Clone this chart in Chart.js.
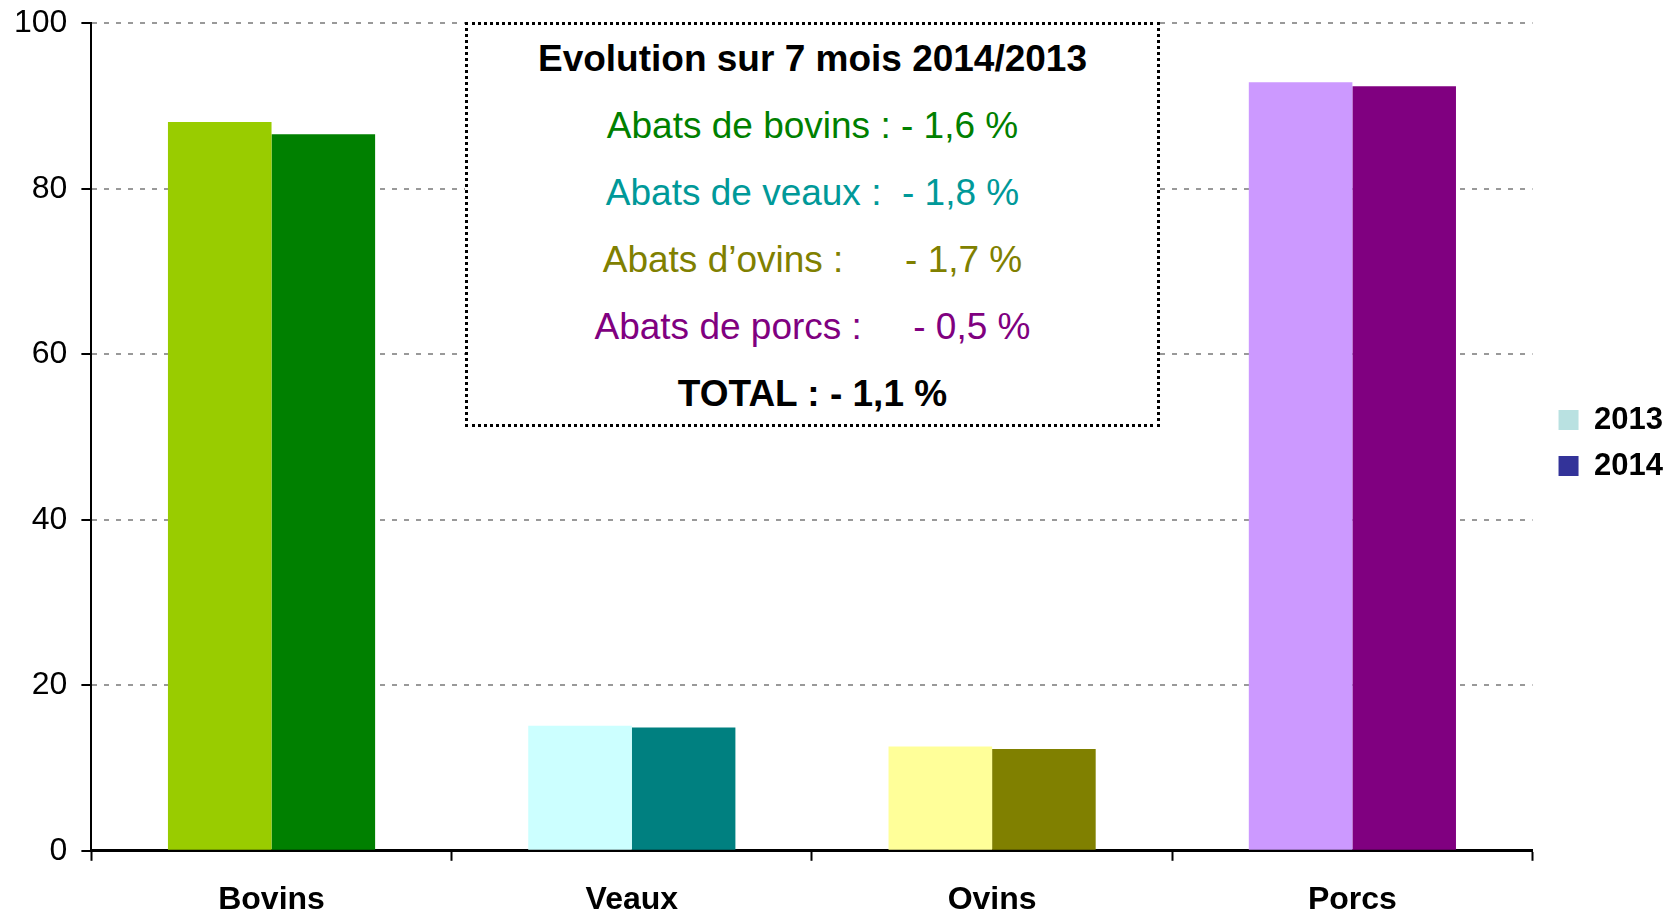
<!DOCTYPE html>
<html>
<head>
<meta charset="utf-8">
<script src="https://cdn.jsdelivr.net/npm/chart.js@4/dist/chart.umd.min.js"></script>
<style>
  body { margin: 0; background: #fff; }
  #wrap { position: relative; width: 1668px; height: 917px; overflow: hidden; }
  #note {
    position: absolute; left: 465px; top: 22px; width: 695px; height: 405px;
    box-sizing: border-box; border: 3px dotted #000; background: #fff;
    font-family: "Liberation Sans", Arial, sans-serif; font-size: 37px;
    text-align: center;
  }
  #note div { height: 67px; line-height: 67px; white-space: pre; }
</style>
</head>
<body>
<div id="wrap">
  <canvas id="chart" width="1668" height="917"></canvas>
  <div id="note">
    <div style="font-weight:bold;color:#000">Evolution sur 7 mois 2014/2013</div>
    <div style="color:#008000">Abats de bovins : - 1,6 %</div>
    <div style="color:#009999">Abats de veaux :  - 1,8 %</div>
    <div style="color:#808000">Abats d’ovins :      - 1,7 %</div>
    <div style="color:#800080">Abats de porcs :     - 0,5 %</div>
    <div style="font-weight:bold;color:#000">TOTAL : - 1,1 %</div>
  </div>
</div>
<script>
// data
const categories = ['Bovins', 'Veaux', 'Ovins', 'Porcs'];
const years = ['2013', '2014'];
const values2013 = [88.1, 15.1, 12.6, 92.9];
const values2014 = [86.6, 14.9, 12.3, 92.4];
const yTicks = [0, 20, 40, 60, 80, 100];

// each category has its own pair of colours
const colors2013 = ['#99CC00', '#CCFFFF', '#FFFF99', '#CC99FF'];
const colors2014 = ['#008000', '#008080', '#808000', '#800080'];
const legendColors = ['#B9E1E1', '#333399'];

const font = '"Liberation Sans", Arial, sans-serif';

// nudges the legend block a bit to the right / up after layout
const legendShift = {
  id: 'legendShift',
  afterLayout(chart) {
    const lg = chart.legend;
    lg.left += 11; lg.right += 11;
    lg.top -= 27; lg.bottom -= 27;
  }
};

new Chart(document.getElementById('chart').getContext('2d'), {
  type: 'bar',
  data: {
    labels: categories,
    datasets: [
      { label: years[0], data: values2013, backgroundColor: colors2013, borderWidth: 0 },
      { label: years[1], data: values2014, backgroundColor: colors2014, borderWidth: 0 }
    ]
  },
  plugins: [legendShift],
  options: {
    responsive: false,
    animation: false,
    devicePixelRatio: 1,
    categoryPercentage: 0.575,
    barPercentage: 1,
    layout: { padding: { top: 0, left: 0, right: 6, bottom: -23 } },
    plugins: {
      tooltip: { enabled: false },
      legend: {
        position: 'right',
        labels: {
          boxWidth: 20,
          boxHeight: 20,
          padding: 15,
          color: '#000',
          font: { family: font, size: 31, weight: 'bold' },
          generateLabels: (chart) => years.map((y, i) => ({
            text: y,
            fillStyle: legendColors[i],
            strokeStyle: legendColors[i],
            lineWidth: 0,
            datasetIndex: i,
            hidden: false
          }))
        }
      }
    },
    scales: {
      x: {
        grid: {
          drawOnChartArea: false,
          drawTicks: true,
          tickLength: 10,
          tickColor: '#000',
          tickWidth: 2
        },
        border: { display: true, color: '#000', width: 3 },
        ticks: {
          color: '#000',
          padding: 22,
          font: { family: font, size: 32, weight: 'bold', lineHeight: 1.1 }
        }
      },
      y: {
        min: 0,
        max: 100,
        afterBuildTicks: (axis) => { axis.ticks = yTicks.map(v => ({ value: v })); },
        grid: {
          color: '#999',
          lineWidth: 2,
          tickLength: 10,
          tickColor: '#000',
          tickWidth: 2,
          tickBorderDash: []
        },
        border: { display: true, color: '#000', width: 2, dash: [5, 7] },
        ticks: {
          color: '#000',
          padding: 14,
          font: { family: font, size: 32, lineHeight: 0.59 }
        }
      }
    }
  }
});
</script>
</body>
</html>
